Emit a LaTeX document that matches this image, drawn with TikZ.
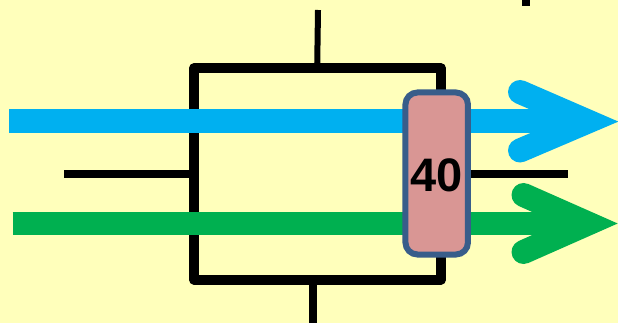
\documentclass[tikz,border=0pt]{standalone}
\usepackage{fontspec}
\setmainfont{Liberation Sans}
\definecolor{bgc}{HTML}{FFFFBB}
\definecolor{bluec}{HTML}{00B0F0}
\definecolor{greenc}{HTML}{00B050}
\definecolor{pinkc}{HTML}{D99694}
\definecolor{edgec}{HTML}{385D8A}
\tikzset{
  wire/.style={draw=black,line width=#1},
  flowshaft/.style={draw=#1,line width=23.7pt},
  flowhead/.style={draw=#1,line width=24pt,line cap=round,miter limit=20,line join=miter},
  valve/.style={draw=edgec,fill=pinkc,line width=6pt,rounded corners=12pt,minimum width=62.5pt,minimum height=162pt,inner sep=0pt}
}
\begin{document}
\begin{tikzpicture}[x=1pt,y=-1pt]
\useasboundingbox (0,0) rectangle (618,323);
\fill[bgc] (0,0) rectangle (618,323);
% named points
\coordinate (tt) at (318,10);
\coordinate (tb) at (317.2,66);
\coordinate (bt) at (313.2,282);
\coordinate (bb) at (313.2,323);
\coordinate (lo) at (64,174);
\coordinate (li) at (192,174);
\coordinate (ri) at (468,174);
\coordinate (ro) at (568,174);
\coordinate (ma) at (526,0);
\coordinate (mb) at (526,6.3);
\coordinate (bs) at (9,121.2);
\coordinate (be) at (580,121.2);
\coordinate (gs) at (12.7,223.5);
\coordinate (ge) at (580,223.5);
% stubs
\draw[wire=6pt] (tt) -- (tb);
\draw[wire=8pt] (bt) -- (bb);
\draw[wire=8pt] (lo) -- (li);
\draw[wire=8pt] (ri) -- (ro);
\draw[wire=7.6pt] (ma) -- (mb);
% box
\draw[wire=10pt,line join=round] (194,68.3) rectangle (441,279.5);
% flows
\draw[flowshaft=bluec] (bs) -- (be);
\draw[flowhead=bluec] (520,92) -- (588,121.5) -- (520,150.5);
\draw[flowshaft=greenc] (gs) -- (ge);
\draw[flowhead=greenc] (523.5,195) -- (588,223.5) -- (523.5,252);
% valve
\node[valve] (v) at (436.7,173.5) {};
\node[font=\bfseries\fontsize{47}{47}\selectfont,inner sep=0pt] (vt) at (436.5,175.5) {40};
\end{tikzpicture}
\end{document}
